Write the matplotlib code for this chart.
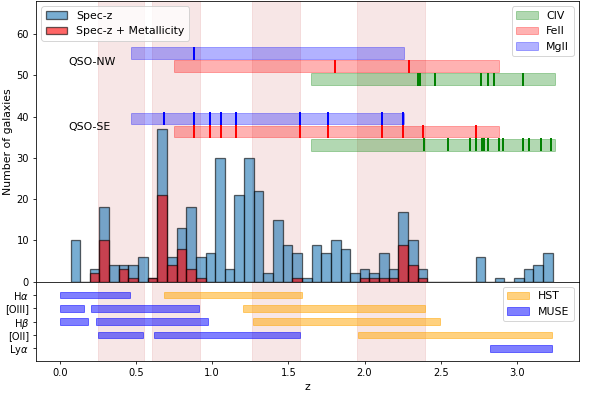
import matplotlib
matplotlib.use('Agg')
import matplotlib.pyplot as plt
import numpy as np

# redshift histogram, 50 bins between min and max z
z_min = 0.07
z_max = 3.235
n_all = [10, 0, 3, 18, 4, 4, 4, 6, 1, 37,
         6, 13, 18, 6, 7, 30, 3, 21, 30, 22,
         2, 15, 9, 7, 1, 9, 7, 10, 8, 2,
         3, 2, 7, 3, 17, 10, 3, 0, 0, 0,
         0, 0, 6, 0, 1, 0, 1, 3, 4, 7]
n_met = [0, 0, 2, 10, 0, 3, 1, 0, 1, 21,
         4, 8, 3, 1, 0, 0, 0, 0, 0, 0,
         0, 0, 0, 1, 0, 0, 0, 0, 0, 0,
         1, 1, 1, 1, 9, 4, 1, 0, 0, 0,
         0, 0, 0, 0, 0, 0, 0, 0, 0, 0]

# z windows where metallicity can be measured
met_windows = [(0.248, 0.550), (0.605, 0.918), (1.262, 1.576), (1.951, 2.395)]

# absorber search windows in the QSO spectra
ions = ['MgII', 'FeII', 'CIV']
ion_colors = ['blue', 'red', 'green']
ion_ranges = [(0.466, 2.257), (0.749, 2.882), (1.648, 3.250)]

nw_abs = {
    'MgII': [0.882],
    'FeII': [1.806, 2.294],
    'CIV': [2.353, 2.364, 2.462, 2.762, 2.812, 2.850, 3.042],
}
se_abs = {
    'MgII': [0.681, 0.882, 0.987, 1.055, 1.156, 1.574, 1.758, 2.112, 2.252],
    'FeII': [0.882, 0.987, 1.055, 1.156, 1.574, 1.758, 2.112, 2.252, 2.381, 2.733],
    'CIV': [2.390, 2.546, 2.692, 2.729, 2.769, 2.786, 2.812, 2.882, 2.911,
            3.042, 3.081, 3.156, 3.222],
}
nw_y = [55.3, 52.15, 49.0]
se_y = [39.55, 36.4, 33.2]

# emission line coverage
lines = ['H$\\alpha$', '[OIII]', 'H$\\beta$', '[OII]', 'Ly$\\alpha$']
muse_cov = [[(0.0, 0.463)],
            [(0.0, 0.155), (0.202, 0.915)],
            [(0.0, 0.187), (0.238, 0.975)],
            [(0.250, 0.547), (0.619, 1.579)],
            [(2.826, 3.229)]]
hst_cov = [[(0.681, 1.591)],
           [(1.200, 2.394)],
           [(1.266, 2.497)],
           [(1.955, 3.229)],
           []]

fig = plt.figure(figsize=(598 / 71, 395 / 71), dpi=71)
ax1 = fig.add_axes([0.0602, 0.2868, 0.908, 0.7105])
ax2 = fig.add_axes([0.0602, 0.0868, 0.908, 0.2], sharex=ax1)

for a in (ax1, ax2):
  for lo, hi in met_windows:
    a.axvspan(lo, hi, color='indianred', alpha=0.15, zorder=0)

edges = np.linspace(z_min, z_max, len(n_all) + 1)
ax1.bar(edges[:-1], n_all, width=np.diff(edges), align='edge', color='C0',
        alpha=0.6, edgecolor='black', linewidth=1.3, label='Spec-z')
ax1.bar(edges[:-1], n_met, width=np.diff(edges), align='edge', color='red',
        alpha=0.6, edgecolor='black', linewidth=1.3, label='Spec-z + Metallicity')

h = 2.9
ion_handles = {}
for yset, absd in ((nw_y, nw_abs), (se_y, se_abs)):
  for i in range(3):
    lo, hi = ion_ranges[i]
    c = ion_colors[i]
    b = ax1.barh(yset[i], hi - lo, left=lo, height=h, color=c, alpha=0.3,
                 edgecolor=c, linewidth=1)
    ion_handles[ions[i]] = b
    ax1.vlines(absd[ions[i]], yset[i] - h / 2 - 0.15, yset[i] + h / 2 + 0.15,
               color=c, linewidth=2)

ax1.text(0.053, 53.3, 'QSO-NW', va='center', ha='left', fontsize=11)
ax1.text(0.053, 37.4, 'QSO-SE', va='center', ha='left', fontsize=11)

leg1 = ax1.legend(loc='upper left', fontsize=11)
ax1.add_artist(leg1)
ax1.legend([ion_handles['CIV'], ion_handles['FeII'], ion_handles['MgII']],
           ['CIV', 'FeII', 'MgII'], loc='upper right', fontsize=11)

ax1.set_ylim(0, 68)
ax1.set_ylabel('Number of galaxies', fontsize=11)
ax1.tick_params(axis='x', bottom=False, labelbottom=False)

ypos = [5, 4, 3, 2, 1]
hst_done = False
muse_done = False
for k in range(len(lines)):
  for lo, hi in hst_cov[k]:
    ax2.barh(ypos[k], hi - lo, left=lo, height=0.5, color='orange', alpha=0.5,
             edgecolor='orange', linewidth=1,
             label=None if hst_done else 'HST')
    hst_done = True
for k in range(len(lines)):
  for lo, hi in muse_cov[k]:
    ax2.barh(ypos[k], hi - lo, left=lo, height=0.5, color='blue', alpha=0.5,
             edgecolor='blue', linewidth=1,
             label=None if muse_done else 'MUSE')
    muse_done = True

ax2.set_yticks(ypos)
ax2.set_yticklabels(lines)
ax2.set_ylim(0.07, 6.0)
ax2.legend(loc='upper right', fontsize=11)
ax2.set_xlim(-0.157, 3.408)
ax2.set_xticks([0.0, 0.5, 1.0, 1.5, 2.0, 2.5, 3.0])
ax2.set_xlabel('z', fontsize=11)

plt.savefig('out.png', dpi=71)
plt.close()
